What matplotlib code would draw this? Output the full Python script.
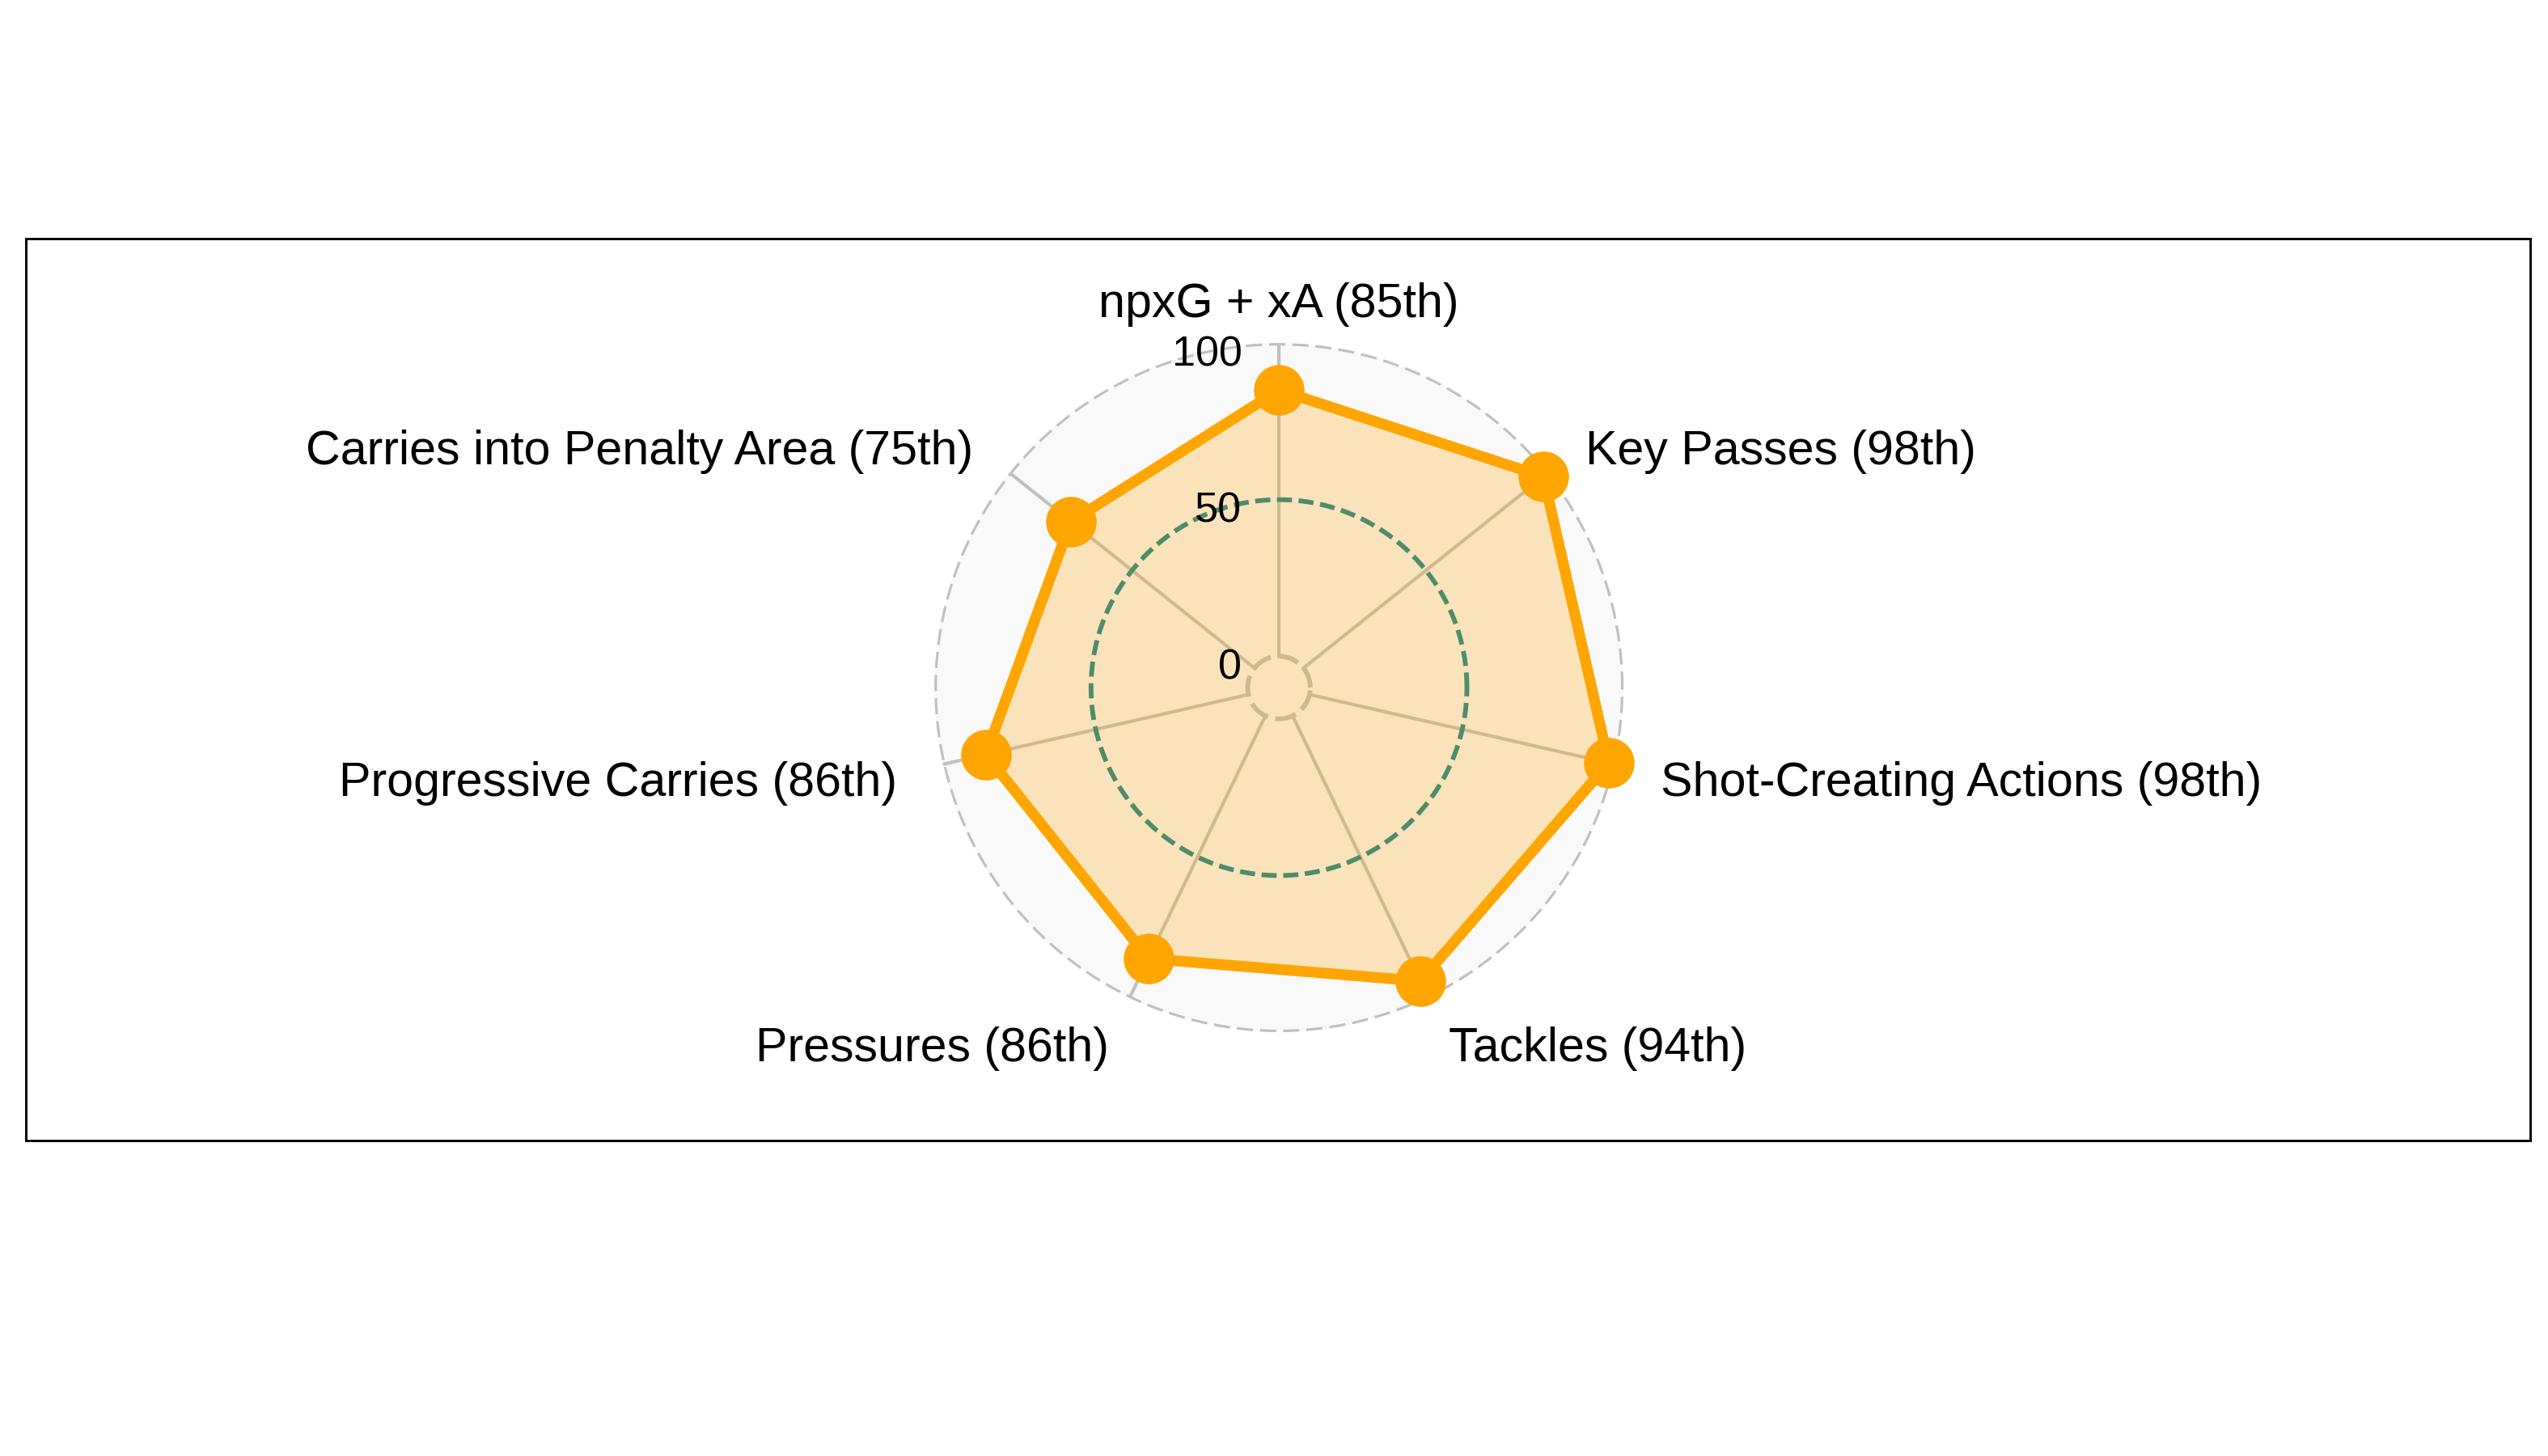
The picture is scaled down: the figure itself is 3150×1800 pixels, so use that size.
import numpy as np
import matplotlib.pyplot as plt

plt.rcParams['font.family'] = ['Liberation Sans', 'DejaVu Sans']

categories = ["npxG + xA", "Key Passes", "Shot-Creating Actions", "Tackles",
              "Pressures", "Progressive Carries", "Carries into Penalty Area"]
percentiles = [85, 98, 98, 94, 86, 86, 75]
rticks = [0, 50, 100]

n = len(categories)
angles = np.pi / 2 - np.arange(n) * 2 * np.pi / n
ang_c = np.append(angles, angles[0])
vals_c = np.append(percentiles, percentiles[0])

fig = plt.figure(figsize=(10.5, 6), dpi=300)

# frame
box = fig.add_axes([0.0102, 0.2167, 0.9829, 0.6194])
box.set_xticks([])
box.set_yticks([])
for s in box.spines.values():
    s.set_linewidth(0.7)
    s.set_color('black')

ax = fig.add_axes([0.3667, 0.2911, 0.2705, 0.4733], projection='polar')
ax.set_ylim(-10, 100)
ax.grid(False)
ax.spines['polar'].set_visible(False)
ax.set_xticks([])
ax.set_yticks([])
ax.patch.set_facecolor('#f9f9f9')

th = np.linspace(0, 2 * np.pi, 400)
# spokes
for a in angles:
    ax.plot([a, a], [0, 100], color='#c0c0c0', lw=1.0, zorder=1)
# rings
ax.plot(th, np.full_like(th, 0), color='#c0c0c0', lw=1.4, ls=(0, (4.5, 1.6)), zorder=1)
ax.plot(th, np.full_like(th, 100), color='#c0c0c0', lw=1.5, ls=(0, (3.2, 1.4)), zorder=1)

ax.fill(ang_c, vals_c, color='orange', alpha=0.25, lw=0, zorder=2)
ax.plot(th, np.full_like(th, 50), color='#4e8c6c', lw=1.4, ls=(0, (3.2, 1.4)), zorder=3)
ax.plot(ang_c, vals_c, color='orange', lw=3.2, zorder=4, clip_on=False)
ax.plot(angles, percentiles, 'o', color='orange', ms=14, zorder=5, clip_on=False)

for r in rticks:
    ax.annotate(str(r), xy=(np.pi / 2, r), xytext=(-11, -3.5), textcoords='offset points',
                ha='right', va='center', fontsize=12.5, zorder=6, annotation_clip=False)

for a, cat, p in zip(angles, categories, percentiles):
    c = np.cos(a)
    if abs(c) < 0.1:
        ha = 'center'
    elif c > 0:
        ha = 'left'
    else:
        ha = 'right'
    ax.annotate(f"{cat} ({p}th)", xy=(a, 115), xytext=(0, -2.5), textcoords='offset points',
                ha=ha, va='center', fontsize=14.2, annotation_clip=False)

fig.savefig('out.png', dpi=300)
